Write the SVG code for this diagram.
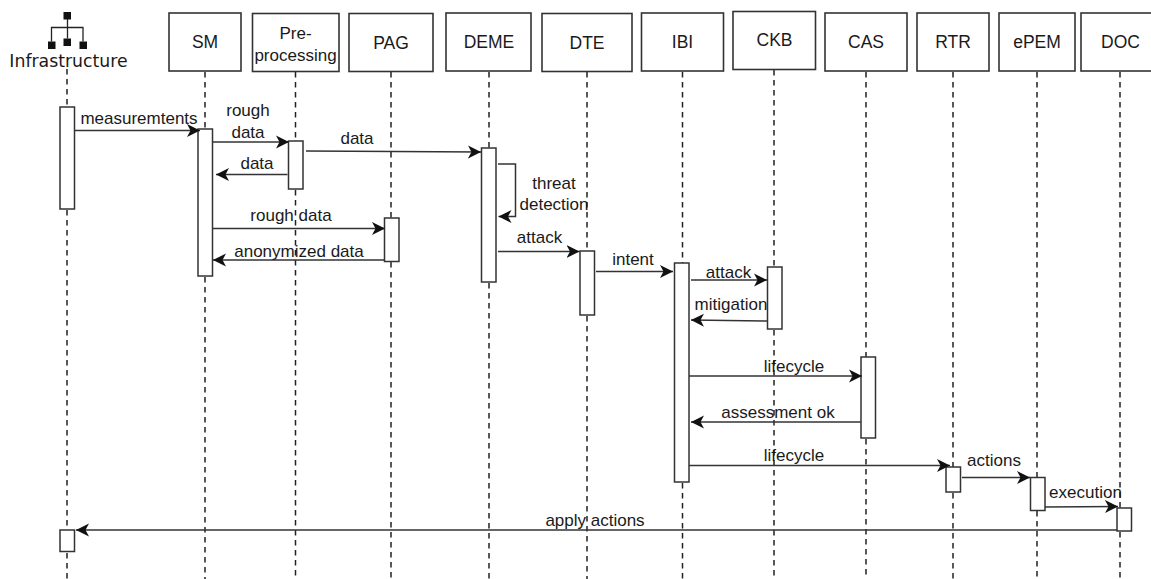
<svg xmlns="http://www.w3.org/2000/svg" width="1151" height="579" viewBox="0 0 1151 579">
<style>
text{font-family:"Liberation Sans",Arial,sans-serif;font-size:17px;fill:#1a1a1a;text-anchor:middle}
.box{fill:#fff;stroke:#333;stroke-width:1.6}
.act{fill:#fff;stroke:#333;stroke-width:1.5}
.life{fill:none;stroke:#222;stroke-width:1.5;stroke-dasharray:5.5 4.5}
.msg{fill:none;stroke:#333;stroke-width:1.5;marker-end:url(#arrow)}
.icon{fill:none;stroke:#222;stroke-width:1.3}
</style>
<defs>
<marker id="arrow" markerUnits="userSpaceOnUse" markerWidth="16" markerHeight="16" refX="13" refY="8" orient="auto"><path d="M0 1.500L13 8L0 14.500L3.500 8Z" fill="#111"/></marker>
</defs>
<rect width="1151" height="579" fill="#fff"/>
<g id="lifelines">
<path class="life" d="M67 69V107M67 210V530M67 553V579"/>
<path class="life" d="M205 72V129M205 277V579"/>
<path class="life" d="M295.500 72V141M295.500 190V579"/>
<path class="life" d="M391 72V218M391 262V579"/>
<path class="life" d="M489 72V148M489 283V579"/>
<path class="life" d="M587 72V251M587 316V579"/>
<path class="life" d="M682.500 72V263M682.500 483V579"/>
<path class="life" d="M774 70V267M774 330V579"/>
<path class="life" d="M866 72V357M866 439V579"/>
<path class="life" d="M953 72V467M953 493V579"/>
<path class="life" d="M1037 72V477M1037 511V579"/>
<path class="life" d="M1120 72V508M1120 532V579"/>
</g>
<g id="infrastructure">
<rect x="63.500" y="12" width="7.500" height="7.500" fill="#111"/>
<rect x="48" y="41.500" width="7.500" height="7.500" fill="#111"/>
<rect x="63.500" y="38.500" width="7.500" height="7.500" fill="#111"/>
<rect x="79.500" y="41.500" width="7.500" height="7.500" fill="#111"/>
<path class="icon" d="M67.500 19V38.500M51.500 41.500V27.500H83V41.500"/>
<text x="68.500" y="67" style="font-family:'DejaVu Sans',sans-serif;font-size:17.300px">Infrastructure</text>
</g>
<g id="sm"><rect class="box" x="169" y="13" width="72" height="58"/><text x="205" y="47.500" style="font-size:17.500px">SM</text></g>
<g id="preprocessing"><rect class="box" x="252.500" y="13.500" width="86.500" height="58"/><text x="295.500" y="38.500">Pre-</text><text x="295.500" y="60.500">processing</text></g>
<g id="pag"><rect class="box" x="349" y="13.500" width="84" height="58"/><text x="391" y="48.500" style="font-size:17.500px">PAG</text></g>
<g id="deme"><rect class="box" x="446" y="13" width="85" height="58"/><text x="489" y="47.500" style="font-size:17.500px">DEME</text></g>
<g id="dte"><rect class="box" x="542" y="13.500" width="90" height="58"/><text x="587" y="49" style="font-size:17.500px">DTE</text></g>
<g id="ibi"><rect class="box" x="641.500" y="13" width="82" height="58"/><text x="682.500" y="47.500" style="font-size:17.500px">IBI</text></g>
<g id="ckb"><rect class="box" x="733" y="11.500" width="82.500" height="58"/><text x="774.500" y="46" style="font-size:17.500px">CKB</text></g>
<g id="cas"><rect class="box" x="825" y="13" width="82" height="58"/><text x="866" y="47.500" style="font-size:17.500px">CAS</text></g>
<g id="rtr"><rect class="box" x="917" y="13" width="72" height="58"/><text x="953" y="47.500" style="font-size:17.500px">RTR</text></g>
<g id="epem"><rect class="box" x="999" y="13" width="76" height="58"/><text x="1037" y="47.500" style="font-size:17.500px">ePEM</text></g>
<g id="doc"><rect class="box" x="1081" y="13" width="72" height="58"/><text x="1120.500" y="47.500" style="font-size:17.500px">DOC</text></g>
<g id="activations">
<rect class="act" x="60" y="107" width="14.500" height="102"/>
<rect class="act" x="198" y="129" width="14.500" height="147"/>
<rect class="act" x="288.500" y="141" width="14.500" height="48"/>
<rect class="act" x="384.500" y="218" width="14.500" height="43.500"/>
<rect class="act" x="481.500" y="148" width="14.500" height="134"/>
<rect class="act" x="580" y="251" width="14.500" height="64"/>
<rect class="act" x="674.500" y="263" width="14.500" height="219"/>
<rect class="act" x="767.500" y="267" width="14.500" height="62"/>
<rect class="act" x="861" y="357" width="14.500" height="81"/>
<rect class="act" x="946" y="467" width="14.500" height="25"/>
<rect class="act" x="1030.500" y="477.500" width="14.500" height="33"/>
<rect class="act" x="1117" y="508" width="14.500" height="23"/>
<rect class="act" x="60" y="530" width="14.500" height="21.500"/>
</g>
<g id="connectors">
<path class="msg" d="M75 130.500H200"/>
<path class="msg" d="M213 142H289"/>
<path class="msg" d="M287.500 174.500H216"/>
<path class="msg" d="M306 151L481 152"/>
<path class="msg" d="M213 228.500H385"/>
<path class="msg" d="M384 260H213"/>
<path class="msg" d="M498 164H515.500V216.500H498.500"/>
<path class="msg" d="M498 251.500H579.500"/>
<path class="msg" d="M596 271.500H673"/>
<path class="msg" d="M691 280H767"/>
<path class="msg" d="M767 321L691 320"/>
<path class="msg" d="M689 376H862"/>
<path class="msg" d="M861 422H691"/>
<path class="msg" d="M689 465.500H950"/>
<path class="msg" d="M962 477.500H1030"/>
<path class="msg" d="M1045 507L1118 506.500"/>
<path class="msg" d="M1117 530H76"/>
</g>
<g id="labels">
<text x="139" y="124">measuremtents</text>
<text x="248" y="116">rough</text>
<text x="248" y="138">data</text>
<text x="357" y="143.500">data</text>
<text x="257" y="168.500">data</text>
<text x="291" y="221">rough data</text>
<text x="299" y="257">anonymized data</text>
<text x="554" y="188.500">threat</text>
<text x="554" y="210">detection</text>
<text x="539.500" y="243">attack</text>
<text x="633" y="264.500">intent</text>
<text x="728.500" y="278">attack</text>
<text x="731" y="310">mitigation</text>
<text x="794" y="372">lifecycle</text>
<text x="778" y="417.500">assessment ok</text>
<text x="794" y="461">lifecycle</text>
<text x="994" y="477" dy="-11">actions</text>
<text x="1085.500" y="498">execution</text>
<text x="595" y="526">apply actions</text>
</g>
</svg>
